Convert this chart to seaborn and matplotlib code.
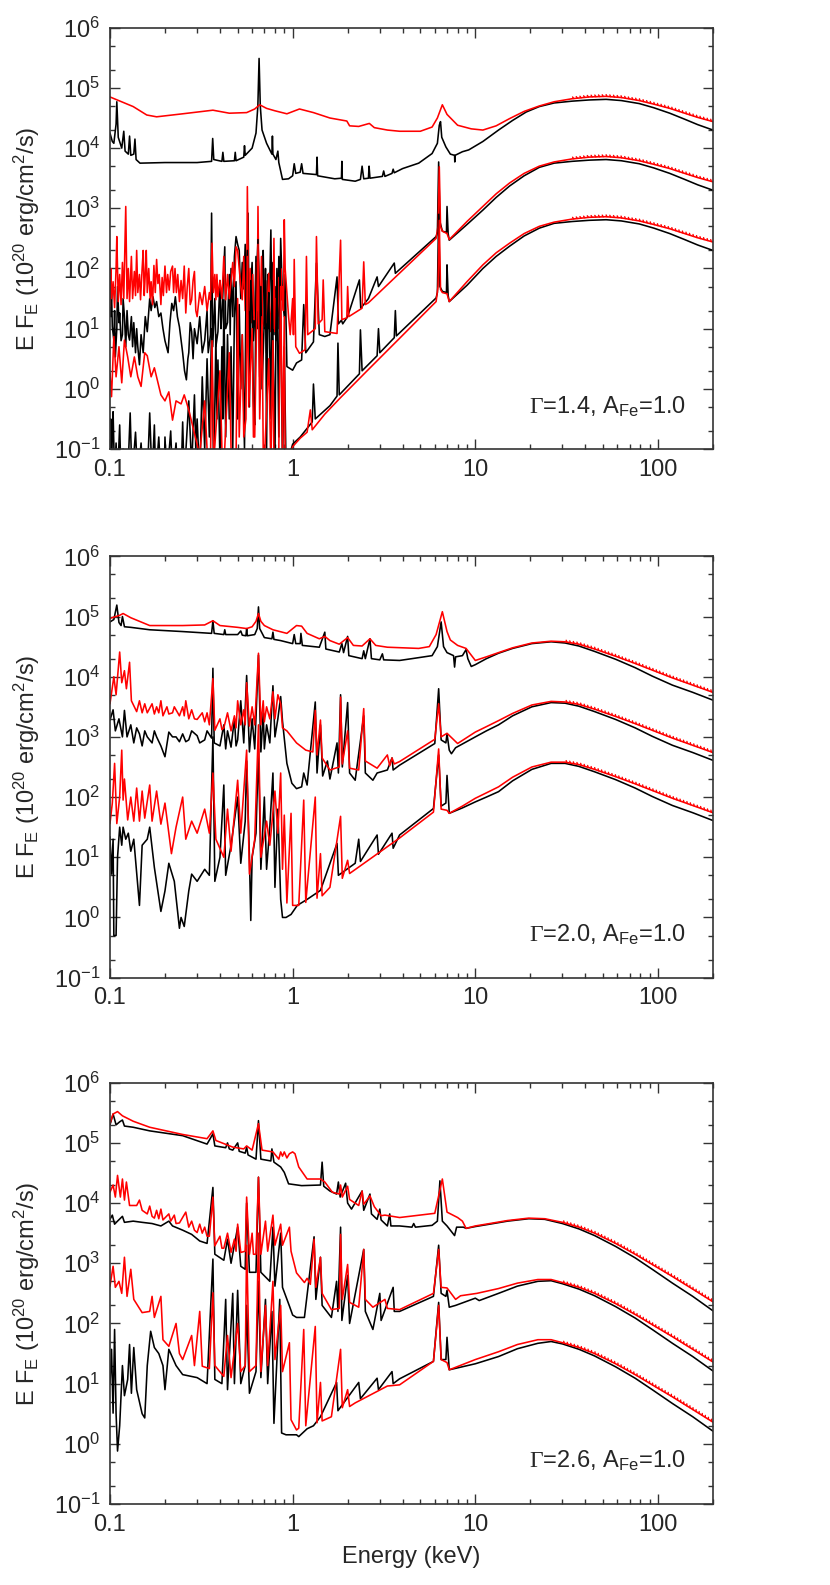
import numpy as np
import matplotlib
matplotlib.use("Agg")
import matplotlib.pyplot as plt
import matplotlib.patheffects as pe
from matplotlib.ticker import LogLocator, NullFormatter, FixedLocator
import seaborn as sns

# Each curve: (energy in keV, log10 of E F_E).
# Panel 1 : Gamma=1.4
p1_a_red = [(0.1,4.85),(0.134,4.69),(0.159,4.55),(0.18,4.52),(0.25,4.57),(0.366,4.63),(0.45,4.58),(0.56,4.59),(0.62,4.65),(0.66,4.72),(0.72,4.66),(0.8,4.62),(0.93,4.57),(1.09,4.65),(1.3,4.59),(1.6,4.50),(1.98,4.45),(2.05,4.37),(2.3,4.36),(2.63,4.41),(2.8,4.34),(3.3,4.30),(3.85,4.28),(5.0,4.28),(5.8,4.35),(6.2,4.50),(6.6,4.72),(7.0,4.56),(8.0,4.38),(9.5,4.32),(11,4.30),(13,4.37),(15.4,4.49),(18.5,4.61),(22.4,4.70),(27,4.77),(33.8,4.82),(42,4.85),(52,4.86),(63,4.84),(79,4.79),(95,4.73),(116,4.66),(140,4.58),(165,4.51),(200,4.44)]
p1_a_blk = [(0.1,4.25),(0.103,4.11),(0.105,4.08),(0.108,4.40),(0.109,4.77),(0.111,4.18),(0.116,4.0),(0.119,4.28),(0.121,3.95),(0.126,3.9),(0.128,4.2),(0.13,3.88),(0.135,3.9),(0.137,4.15),(0.139,3.81),(0.146,3.75),(0.2,3.76),(0.3,3.76),(0.36,3.78),(0.365,4.16),(0.37,3.81),(0.41,3.78),(0.415,3.93),(0.42,3.78),(0.48,3.79),(0.485,3.93),(0.49,3.79),(0.54,3.85),(0.545,4.04),(0.55,3.88),(0.6,4.0),(0.63,4.25),(0.645,4.7),(0.655,5.49),(0.665,4.7),(0.68,4.3),(0.72,4.08),(0.77,3.9),(0.775,4.2),(0.78,3.9),(0.81,3.81),(0.83,3.95),(0.84,3.76),(0.88,3.48),(0.95,3.49),(1.0,3.54),(1.02,3.74),(1.04,3.58),(1.1,3.6),(1.12,3.74),(1.14,3.58),(1.35,3.56),(1.36,3.85),(1.37,3.54),(1.7,3.49),(1.85,3.5),(1.86,3.78),(1.87,3.48),(2.2,3.45),(2.35,3.48),(2.4,3.7),(2.45,3.49),(2.6,3.5),(2.62,3.7),(2.65,3.5),(3.1,3.53),(3.15,3.62),(3.2,3.53),(3.5,3.58),(3.55,3.65),(3.6,3.59),(4.0,3.66),(4.9,3.75),(5.8,3.91),(6.2,4.08),(6.35,4.38),(6.45,4.44),(6.55,4.18),(6.9,4.02),(7.3,3.9),(7.7,3.88),(7.72,3.77),(7.75,3.88),(8.5,3.94),(9.2,3.97),(11,4.11),(13.4,4.30),(16,4.46),(19,4.60),(22.4,4.69),(27,4.75),(33.8,4.78),(42,4.80),(52,4.81),(63,4.79),(79,4.74),(95,4.67),(116,4.58),(140,4.48),(165,4.39),(200,4.30)]
p1_b_red = [(0.1,1.37),(0.101,2.0),(0.102,1.5),(0.104,1.78),(0.106,1.35),(0.108,2.0),(0.109,2.53),(0.111,1.45),(0.113,1.9),(0.115,1.4),(0.117,2.1),(0.119,1.5),(0.121,2.5),(0.122,3.03),(0.124,1.5),(0.126,2.0),(0.128,1.45),(0.131,2.2),(0.133,1.5),(0.136,1.95),(0.138,1.55),(0.14,2.3),(0.142,1.6),(0.145,1.9),(0.147,1.48),(0.15,2.0),(0.152,2.3),(0.154,1.55),(0.156,1.9),(0.158,2.3),(0.16,1.6),(0.163,2.0),(0.166,1.5),(0.168,1.78),(0.171,1.4),(0.174,2.05),(0.177,1.6),(0.18,2.15),(0.183,1.75),(0.186,1.9),(0.19,1.4),(0.193,1.85),(0.196,1.55),(0.2,2.04),(0.204,1.6),(0.207,1.9),(0.211,1.64),(0.215,1.95),(0.22,2.04),(0.223,1.6),(0.227,2.0),(0.231,1.6),(0.235,1.9),(0.24,1.45),(0.245,1.8),(0.25,1.5),(0.255,2.04),(0.26,1.26),(0.265,1.7),(0.27,2.0),(0.275,1.4),(0.28,1.48),(0.285,1.8),(0.29,1.95),(0.295,1.3),(0.3,1.2),(0.31,1.6),(0.32,1.4),(0.33,1.7),(0.34,1.3),(0.35,1.6),(0.355,1.48),(0.362,2.42),(0.368,1.6),(0.375,1.9),(0.38,1.48),(0.385,1.9),(0.39,1.53),(0.4,1.8),(0.41,1.5),(0.42,2.2),(0.43,1.48),(0.44,1.9),(0.45,1.5),(0.46,1.78),(0.47,2.1),(0.48,1.7),(0.49,2.36),(0.5,2.3),(0.51,2.0),(0.52,1.7),(0.53,1.48),(0.54,2.2),(0.55,1.3),(0.56,1.5),(0.565,3.36),(0.575,1.3),(0.585,2.0),(0.595,1.1),(0.605,1.9),(0.615,1.15),(0.625,1.18),(0.635,2.1),(0.64,1.3),(0.646,3.03),(0.655,1.3),(0.665,1.15),(0.675,2.2),(0.685,1.1),(0.7,1.04),(0.71,1.8),(0.72,1.1),(0.74,1.92),(0.75,1.2),(0.76,0.95),(0.77,1.6),(0.78,1.0),(0.79,2.5),(0.8,0.95),(0.81,1.5),(0.82,1.0),(0.84,1.85),(0.85,1.2),(0.86,2.0),(0.87,1.48),(0.88,1.7),(0.89,1.3),(0.9,2.81),(0.91,2.0),(0.93,1.6),(0.95,1.2),(0.97,0.9),(1.0,1.5),(1.01,0.9),(1.02,2.15),(1.04,0.7),(1.09,0.59),(1.17,0.65),(1.19,2.2),(1.21,0.9),(1.33,1.0),(1.35,2.53),(1.38,1.08),(1.45,1.15),(1.47,1.81),(1.5,0.95),(1.75,0.92),(1.83,2.47),(1.86,1.15),(1.98,1.18),(2.0,1.70),(2.03,1.2),(2.4,1.34),(2.45,2.11),(2.5,1.4),(2.6,1.43),(4.0,1.97),(5.0,2.25),(6.1,2.5),(6.25,2.7),(6.35,3.69),(6.45,2.7),(6.6,2.62),(7.0,2.58),(7.2,2.48),(9,2.78),(11,3.03),(13,3.24),(15.4,3.42),(18.5,3.58),(22.4,3.70),(27,3.77),(33.8,3.82),(42,3.85),(52,3.86),(63,3.84),(79,3.79),(95,3.73),(116,3.66),(140,3.58),(165,3.51),(200,3.44)]
p1_b_blk = [(0.1,1.70),(0.101,1.2),(0.102,1.6),(0.103,1.03),(0.105,0.81),(0.106,1.3),(0.107,0.53),(0.109,1.0),(0.11,1.7),(0.112,1.1),(0.113,1.26),(0.115,0.8),(0.117,0.9),(0.118,1.5),(0.12,1.2),(0.122,0.7),(0.124,1.3),(0.126,0.9),(0.128,0.81),(0.131,1.2),(0.133,0.7),(0.135,1.1),(0.138,0.6),(0.14,1.0),(0.142,0.7),(0.145,0.4),(0.148,0.9),(0.152,0.6),(0.156,1.2),(0.16,0.95),(0.165,1.5),(0.168,1.3),(0.172,1.53),(0.176,1.35),(0.18,1.45),(0.185,1.2),(0.19,1.26),(0.195,1.0),(0.2,0.8),(0.208,0.6),(0.213,1.1),(0.218,1.42),(0.223,1.3),(0.228,1.53),(0.234,1.2),(0.24,1.03),(0.25,0.6),(0.256,0.3),(0.262,0.15),(0.267,0.5),(0.27,0.6),(0.275,1.1),(0.28,0.95),(0.285,0.5),(0.29,1.0),(0.3,0.75),(0.31,1.2),(0.32,0.6),(0.33,0.8),(0.34,1.3),(0.345,0.6),(0.355,0.9),(0.36,2.92),(0.365,0.7),(0.375,1.5),(0.38,0.7),(0.39,0.95),(0.4,1.8),(0.405,1.0),(0.41,1.2),(0.425,2.36),(0.43,1.0),(0.44,1.1),(0.45,1.9),(0.455,0.9),(0.46,2.0),(0.47,1.2),(0.48,2.2),(0.49,2.53),(0.5,2.4),(0.51,2.3),(0.52,1.5),(0.53,2.1),(0.54,1.66),(0.55,2.4),(0.56,1.0),(0.57,2.92),(0.58,0.6),(0.59,1.7),(0.6,2.1),(0.61,0.8),(0.62,1.2),(0.63,2.2),(0.64,1.0),(0.646,2.47),(0.66,1.5),(0.67,0.8),(0.68,2.0),(0.69,2.3),(0.7,1.0),(0.71,1.8),(0.72,0.6),(0.73,1.9),(0.74,1.0),(0.76,2.64),(0.77,1.2),(0.78,2.1),(0.79,0.9),(0.8,1.7),(0.81,0.8),(0.82,2.0),(0.83,1.0),(0.84,2.2),(0.85,1.2),(0.86,2.5),(0.88,1.5),(0.9,1.2),(0.91,1.9),(0.93,0.37),(1.0,0.31),(1.05,0.43),(1.12,0.48),(1.15,1.4),(1.18,0.6),(1.3,0.78),(1.35,2.09),(1.4,0.9),(1.5,0.87),(1.6,0.9),(1.75,1.86),(1.78,1.08),(1.85,1.14),(1.88,1.08),(2.0,1.2),(2.32,1.81),(2.36,1.34),(2.6,1.5),(2.9,1.86),(2.95,1.7),(3.6,2.09),(3.65,1.92),(6.1,2.53),(6.2,2.6),(6.3,3.77),(6.4,2.78),(6.6,2.62),(6.95,2.6),(7.0,3.03),(7.1,2.58),(7.2,2.47),(9,2.73),(11,2.97),(13,3.18),(15.4,3.37),(18.5,3.54),(22.4,3.68),(27,3.75),(33.8,3.78),(42,3.80),(52,3.81),(63,3.79),(79,3.74),(95,3.67),(116,3.58),(140,3.48),(165,3.39),(200,3.30)]
p1_c_red = [(0.1,0.26),(0.102,-0.13),(0.105,0.87),(0.108,0.2),(0.112,0.7),(0.116,0.1),(0.12,0.81),(0.125,0.53),(0.13,0.2),(0.136,0.53),(0.142,0.2),(0.148,0.04),(0.155,0.6),(0.16,0.55),(0.168,0.2),(0.175,0.35),(0.19,-0.1),(0.2,-0.2),(0.21,-0.05),(0.22,-0.52),(0.23,-0.2),(0.245,-0.25),(0.255,-0.1),(0.27,-0.35),(0.29,-0.74),(0.31,-1.1),(0.33,-0.2),(0.34,-1.0),(0.355,-1.2),(0.362,0.8),(0.37,-1.2),(0.4,0.3),(0.41,-1.0),(0.42,-1.3),(0.45,0.6),(0.46,-1.0),(0.49,-1.2),(0.5,1.5),(0.51,-0.8),(0.53,0.9),(0.54,-0.8),(0.555,-0.5),(0.565,2.2),(0.575,-0.3),(0.6,1.0),(0.61,-0.8),(0.62,-0.8),(0.646,2.4),(0.66,-0.5),(0.68,1.2),(0.69,-1.0),(0.7,-1.2),(0.74,0.5),(0.76,-1.3),(0.78,0.8),(0.79,-1.2),(0.84,-1.0),(0.86,1.7),(0.88,-1.1),(0.9,1.2),(0.91,-1.2),(0.93,-1.3),(1.0,-0.96),(1.1,-0.82),(1.2,-0.72),(1.25,-0.35),(1.28,-0.68),(1.5,-0.42),(1.81,-0.16),(2.5,0.27),(4.0,0.89),(6.1,1.45),(6.25,1.7),(6.35,2.8),(6.45,1.65),(6.6,1.6),(7.0,1.58),(7.2,1.45),(9,1.78),(11,2.06),(13,2.26),(15.4,2.42),(18.5,2.58),(22.4,2.70),(27,2.77),(33.8,2.82),(42,2.85),(52,2.86),(63,2.84),(79,2.79),(95,2.73),(116,2.66),(140,2.58),(165,2.51),(200,2.44)]
p1_c_blk = [(0.1,-1.5),(0.101,-0.5),(0.102,-1.5),(0.103,-0.7),(0.104,-0.38),(0.106,-1.5),(0.108,-0.9),(0.11,-1.5),(0.113,-0.6),(0.115,-1.5),(0.118,-1.0),(0.12,-1.5),(0.125,-1.5),(0.129,-0.4),(0.132,-1.5),(0.138,-0.72),(0.142,-1.5),(0.148,-0.9),(0.152,-1.5),(0.16,-1.5),(0.165,-0.4),(0.17,-1.5),(0.175,-0.6),(0.178,-1.5),(0.185,-0.8),(0.19,-1.5),(0.198,-1.5),(0.2,-0.8),(0.205,-1.5),(0.215,-0.7),(0.22,-1.5),(0.23,-0.9),(0.235,-1.5),(0.245,-1.5),(0.25,-0.55),(0.255,-1.5),(0.27,-0.2),(0.28,-1.3),(0.29,-0.1),(0.295,-1.0),(0.3,-0.5),(0.31,-1.5),(0.32,0.2),(0.33,-1.0),(0.34,0.5),(0.35,-0.8),(0.36,1.0),(0.37,-1.5),(0.38,0.9),(0.385,-0.5),(0.39,0.48),(0.4,-1.2),(0.41,0.7),(0.415,-0.5),(0.42,1.48),(0.43,-0.8),(0.44,0.9),(0.45,-0.5),(0.46,0.7),(0.47,-1.0),(0.48,1.2),(0.49,1.78),(0.5,-0.5),(0.51,1.4),(0.52,0.0),(0.53,0.9),(0.545,-1.0),(0.555,1.5),(0.565,2.3),(0.58,-0.3),(0.59,1.8),(0.6,1.3),(0.61,-0.2),(0.62,-0.6),(0.63,1.6),(0.646,2.48),(0.66,0.2),(0.67,1.7),(0.68,0.0),(0.7,1.18),(0.71,2.0),(0.72,-1.0),(0.73,1.2),(0.74,1.6),(0.76,-0.5),(0.77,1.8),(0.78,0.9),(0.8,-1.2),(0.81,1.0),(0.82,1.78),(0.84,-0.8),(0.85,2.1),(0.86,1.3),(0.88,-1.3),(0.9,0.7),(0.92,-1.3),(1.0,-0.92),(1.1,-0.8),(1.28,-0.55),(1.3,0.08),(1.33,-0.5),(1.6,-0.28),(1.75,-0.12),(1.77,0.76),(1.8,-0.1),(2.32,0.25),(2.35,0.98),(2.4,0.3),(2.9,0.55),(2.95,1.0),(3.0,0.6),(3.6,0.85),(3.65,1.3),(3.7,0.88),(6.1,1.51),(6.2,1.6),(6.3,2.9),(6.4,1.7),(6.6,1.62),(6.95,1.6),(7.0,2.06),(7.1,1.55),(7.2,1.45),(9,1.72),(11,2.0),(13,2.2),(15.4,2.37),(18.5,2.54),(22.4,2.67),(27,2.75),(33.8,2.78),(42,2.80),(52,2.81),(63,2.79),(79,2.74),(95,2.67),(116,2.58),(140,2.48),(165,2.39),(200,2.30)]

# Panel 2 : Gamma=2.0
p2_a_red = [(0.1,4.97),(0.113,5.02),(0.118,5.05),(0.13,4.98),(0.165,4.85),(0.25,4.85),(0.33,4.86),(0.366,4.93),(0.4,4.85),(0.5,4.82),(0.56,4.80),(0.6,4.83),(0.63,4.92),(0.65,5.05),(0.67,4.92),(0.7,4.85),(0.78,4.78),(0.93,4.72),(1.05,4.85),(1.12,4.84),(1.2,4.72),(1.4,4.63),(1.5,4.67),(1.6,4.60),(1.8,4.54),(2.0,4.65),(2.15,4.52),(2.4,4.51),(2.65,4.63),(2.85,4.52),(3.3,4.49),(4.9,4.47),(5.6,4.50),(6.1,4.70),(6.6,5.08),(7.0,4.75),(7.3,4.61),(8.0,4.52),(8.9,4.47),(10,4.27),(11.5,4.33),(13.4,4.40),(16,4.48),(20.4,4.56),(26,4.59),(31,4.58),(36.9,4.54),(45,4.46),(58.6,4.34),(75,4.22),(93,4.11),(120,3.98),(155,3.86),(200,3.74)]
p2_a_blk = [(0.1,4.91),(0.105,4.95),(0.109,5.19),(0.112,4.9),(0.115,4.85),(0.117,5.0),(0.12,4.83),(0.13,4.82),(0.165,4.78),(0.25,4.75),(0.36,4.72),(0.366,4.93),(0.372,4.72),(0.42,4.7),(0.425,4.78),(0.43,4.7),(0.5,4.7),(0.52,4.76),(0.53,4.69),(0.555,4.68),(0.56,4.8),(0.565,4.68),(0.62,4.7),(0.64,4.8),(0.65,5.16),(0.66,4.8),(0.7,4.65),(0.77,4.63),(0.78,4.74),(0.79,4.62),(0.86,4.6),(1.0,4.55),(1.02,4.7),(1.04,4.55),(1.1,4.55),(1.11,4.72),(1.13,4.52),(1.4,4.49),(1.5,4.74),(1.52,4.46),(1.8,4.41),(1.86,4.55),(1.9,4.40),(2.0,4.67),(2.03,4.35),(2.4,4.30),(2.45,4.43),(2.5,4.30),(2.65,4.63),(2.7,4.30),(3.0,4.28),(3.1,4.38),(3.15,4.28),(3.85,4.27),(4.5,4.3),(5.8,4.35),(6.2,4.5),(6.5,4.91),(6.7,4.5),(7.0,4.40),(7.6,4.35),(7.7,4.16),(7.8,4.33),(8.5,4.35),(8.9,4.45),(9.1,4.3),(9.5,4.17),(10,4.2),(11.5,4.3),(13.4,4.39),(16,4.47),(20.4,4.55),(26,4.58),(31,4.56),(36.9,4.51),(45,4.42),(58.6,4.29),(75,4.15),(93,4.01),(120,3.86),(155,3.74),(200,3.61)]
p2_b_red = [(0.1,3.55),(0.105,4.0),(0.108,3.7),(0.113,4.41),(0.116,3.9),(0.12,4.1),(0.123,3.8),(0.128,4.24),(0.131,3.6),(0.14,3.42),(0.145,3.6),(0.15,3.4),(0.155,3.55),(0.16,3.4),(0.17,3.55),(0.175,3.38),(0.18,3.5),(0.185,3.4),(0.19,3.6),(0.195,3.35),(0.205,3.5),(0.21,3.38),(0.22,3.4),(0.225,3.5),(0.24,3.35),(0.25,3.5),(0.255,3.35),(0.26,3.6),(0.27,3.3),(0.28,3.45),(0.29,3.3),(0.3,3.29),(0.32,3.4),(0.33,3.25),(0.34,3.4),(0.35,3.2),(0.366,3.97),(0.375,3.11),(0.4,3.3),(0.41,3.12),(0.42,3.15),(0.44,3.4),(0.46,3.1),(0.48,3.35),(0.49,3.15),(0.5,3.6),(0.52,3.2),(0.54,3.45),(0.55,3.2),(0.56,3.9),(0.58,3.18),(0.6,3.5),(0.62,3.2),(0.65,4.39),(0.67,3.2),(0.69,3.6),(0.7,3.25),(0.72,3.5),(0.75,3.3),(0.78,3.75),(0.8,3.3),(0.83,3.7),(0.86,3.55),(0.88,3.15),(0.93,3.1),(1.05,2.9),(1.18,2.78),(1.29,2.75),(1.33,3.44),(1.36,2.7),(1.42,3.28),(1.45,2.65),(1.6,2.45),(1.8,2.5),(1.83,3.66),(1.87,2.55),(2.0,3.1),(2.05,2.48),(2.3,2.45),(2.45,3.47),(2.5,2.6),(2.9,2.48),(3.3,2.7),(3.4,2.52),(3.5,2.65),(3.6,2.55),(3.85,2.59),(6.0,2.96),(6.3,3.55),(6.5,3.0),(7.0,3.06),(8.0,2.89),(10,3.08),(11.5,3.17),(13.4,3.27),(16,3.39),(20.4,3.53),(26,3.59),(31,3.58),(36.9,3.54),(45,3.46),(58.6,3.34),(75,3.22),(93,3.11),(120,2.98),(155,2.86),(200,2.74)]
p2_b_blk = [(0.1,3.28),(0.104,3.45),(0.107,3.1),(0.112,3.3),(0.117,3.0),(0.12,3.44),(0.124,3.0),(0.13,3.2),(0.135,2.9),(0.14,3.15),(0.145,3.05),(0.15,2.85),(0.155,3.1),(0.16,3.0),(0.17,2.9),(0.175,3.1),(0.18,3.0),(0.19,2.85),(0.2,2.67),(0.21,3.08),(0.22,3.0),(0.23,3.0),(0.24,2.92),(0.25,3.05),(0.26,2.92),(0.27,2.95),(0.28,3.1),(0.3,3.02),(0.31,2.9),(0.33,2.95),(0.34,3.1),(0.36,2.98),(0.366,4.14),(0.372,2.9),(0.4,2.85),(0.42,3.2),(0.43,2.8),(0.44,3.1),(0.46,2.83),(0.48,3.3),(0.49,2.85),(0.5,2.95),(0.52,3.6),(0.54,2.9),(0.56,4.02),(0.58,2.75),(0.6,3.3),(0.62,2.8),(0.65,4.36),(0.67,2.75),(0.69,3.4),(0.7,2.8),(0.72,3.2),(0.75,2.9),(0.78,3.85),(0.8,3.0),(0.83,3.3),(0.86,3.67),(0.88,3.26),(0.93,2.56),(0.99,2.23),(1.05,2.14),(1.12,2.17),(1.15,2.4),(1.2,2.2),(1.33,3.58),(1.36,2.4),(1.42,3.2),(1.46,2.35),(1.55,2.6),(1.6,2.3),(1.75,2.9),(1.78,2.4),(1.83,3.70),(1.87,2.5),(2.0,3.57),(2.05,2.4),(2.2,2.28),(2.45,3.35),(2.5,2.4),(2.75,2.28),(2.9,2.4),(3.3,2.45),(3.5,2.65),(3.55,2.45),(3.85,2.53),(6.0,2.89),(6.3,3.80),(6.5,2.95),(6.9,2.9),(7.0,3.05),(7.2,2.78),(7.4,2.72),(7.8,2.82),(10,3.0),(11.5,3.1),(13.4,3.2),(16,3.35),(20.4,3.5),(26,3.57),(31,3.56),(36.9,3.51),(45,3.42),(58.6,3.29),(75,3.15),(93,3.01),(120,2.86),(155,2.74),(200,2.61)]
p2_c_red = [(0.1,1.56),(0.103,1.9),(0.106,2.56),(0.109,1.56),(0.113,2.0),(0.116,2.78),(0.118,1.95),(0.12,2.3),(0.125,1.62),(0.13,2.0),(0.135,1.6),(0.14,2.15),(0.145,1.6),(0.15,2.1),(0.155,1.65),(0.165,2.2),(0.17,1.6),(0.18,2.1),(0.19,1.55),(0.2,1.9),(0.217,1.06),(0.23,1.5),(0.25,2.0),(0.26,1.3),(0.28,1.6),(0.3,1.4),(0.33,1.8),(0.35,1.4),(0.366,2.4),(0.38,1.3),(0.42,1.0),(0.44,1.8),(0.46,1.1),(0.5,2.28),(0.52,1.4),(0.56,2.78),(0.58,0.72),(0.62,1.3),(0.65,3.2),(0.67,1.0),(0.72,1.6),(0.75,1.2),(0.8,2.1),(0.83,1.4),(0.86,2.4),(0.88,0.8),(0.9,1.7),(0.93,0.24),(0.98,1.73),(1.0,0.2),(1.08,0.2),(1.15,1.95),(1.18,0.25),(1.33,2.0),(1.36,0.32),(1.42,1.06),(1.45,0.36),(1.6,0.5),(1.83,1.68),(1.87,0.65),(2.0,0.95),(2.05,0.73),(3.85,1.32),(5.9,1.75),(6.3,2.8),(6.5,1.8),(7.0,1.78),(7.2,1.73),(8.5,1.85),(10,1.98),(11.5,2.07),(13.4,2.17),(16,2.33),(20.4,2.50),(26,2.58),(31,2.58),(36.9,2.54),(45,2.46),(58.6,2.34),(75,2.22),(93,2.11),(120,1.98),(155,1.86),(200,1.74)]
p2_c_blk = [(0.1,1.34),(0.102,0.72),(0.104,1.3),(0.105,-0.3),(0.108,-0.3),(0.11,1.0),(0.113,1.5),(0.116,1.2),(0.118,1.5),(0.122,1.3),(0.126,1.4),(0.13,1.1),(0.135,1.3),(0.145,0.2),(0.15,1.2),(0.16,1.3),(0.165,1.5),(0.175,0.83),(0.19,0.1),(0.2,0.44),(0.21,0.9),(0.225,0.6),(0.24,-0.18),(0.245,0.0),(0.255,-0.15),(0.27,0.44),(0.28,0.72),(0.3,0.6),(0.33,0.8),(0.35,0.7),(0.366,3.0),(0.375,0.6),(0.4,1.0),(0.42,2.2),(0.43,0.7),(0.46,1.2),(0.5,2.0),(0.52,0.9),(0.55,1.6),(0.56,2.6),(0.58,1.0),(0.59,-0.05),(0.6,1.0),(0.63,1.4),(0.65,2.8),(0.67,0.8),(0.7,2.0),(0.72,0.8),(0.75,1.5),(0.78,2.4),(0.8,0.5),(0.83,1.8),(0.86,0.3),(0.88,0.0),(0.92,0.0),(0.98,0.05),(1.06,0.2),(1.2,0.3),(1.42,0.45),(1.75,1.23),(1.78,0.7),(2.2,0.9),(2.3,1.3),(2.35,0.93),(2.9,1.37),(2.95,1.05),(3.5,1.4),(3.55,1.15),(3.85,1.37),(5.9,1.81),(6.3,2.7),(6.5,1.85),(6.9,1.9),(7.0,2.36),(7.2,1.73),(8.5,1.82),(10,1.92),(11.5,2.0),(13.4,2.09),(16,2.27),(20.4,2.46),(26,2.56),(31,2.56),(36.9,2.51),(45,2.42),(58.6,2.29),(75,2.15),(93,2.01),(120,1.86),(155,1.74),(200,1.61)]

# Panel 3 : Gamma=2.6
p3_a_red = [(0.1,5.32),(0.104,5.48),(0.11,5.52),(0.117,5.45),(0.134,5.36),(0.165,5.26),(0.25,5.14),(0.34,5.07),(0.366,5.2),(0.38,5.04),(0.47,4.93),(0.54,4.9),(0.56,4.95),(0.6,4.88),(0.65,5.32),(0.68,4.88),(0.78,4.85),(0.84,4.73),(0.86,4.85),(0.88,4.78),(0.9,4.85),(0.93,4.75),(0.96,4.82),(1.0,4.85),(1.03,4.82),(1.08,4.6),(1.2,4.4),(1.42,4.4),(1.5,4.35),(1.65,4.18),(1.8,4.15),(1.83,4.3),(1.87,4.1),(2.0,4.28),(2.05,4.06),(2.3,3.96),(2.4,4.2),(2.45,3.98),(2.65,4.12),(2.8,3.94),(3.05,3.79),(3.2,3.8),(3.85,3.76),(6.0,3.83),(6.6,4.4),(7.0,3.85),(8.0,3.76),(8.5,3.7),(8.9,3.58),(10,3.62),(12,3.66),(15,3.71),(19.6,3.75),(24,3.74),(30,3.68),(37,3.60),(45,3.50),(58.6,3.33),(75,3.15),(93,2.98),(120,2.78),(155,2.57),(200,2.36)]
p3_a_blk = [(0.1,5.3),(0.104,5.48),(0.108,5.3),(0.113,5.35),(0.117,5.38),(0.12,5.28),(0.134,5.26),(0.165,5.2),(0.25,5.12),(0.34,4.98),(0.366,5.15),(0.375,4.95),(0.43,4.92),(0.44,5.0),(0.45,4.9),(0.47,4.88),(0.5,5.0),(0.51,4.86),(0.55,4.83),(0.56,4.93),(0.57,4.8),(0.63,4.73),(0.65,5.37),(0.67,4.73),(0.76,4.7),(0.77,4.9),(0.79,4.68),(0.86,4.6),(0.9,4.51),(0.95,4.32),(1.12,4.29),(1.42,4.3),(1.45,4.68),(1.48,4.28),(1.6,4.2),(1.74,4.15),(1.78,4.35),(1.82,4.1),(1.95,4.33),(2.0,4.0),(2.1,3.9),(2.4,4.2),(2.45,3.88),(2.65,4.15),(2.7,3.82),(2.9,3.73),(3.0,3.9),(3.05,3.72),(3.3,3.62),(3.4,3.82),(3.45,3.62),(3.85,3.62),(4.5,3.6),(4.6,3.66),(4.7,3.6),(5.8,3.63),(6.2,3.7),(6.4,4.37),(6.6,3.7),(7.0,3.62),(7.7,3.46),(7.9,3.6),(8.6,3.6),(8.9,3.58),(10,3.61),(12,3.65),(15,3.70),(19.6,3.74),(24,3.73),(30,3.66),(37,3.57),(45,3.46),(58.6,3.28),(75,3.09),(93,2.90),(120,2.67),(155,2.45),(200,2.21)]
p3_b_red = [(0.1,4.18),(0.104,4.3),(0.107,4.1),(0.11,4.46),(0.114,4.1),(0.117,4.4),(0.12,4.05),(0.123,4.35),(0.128,3.96),(0.14,3.96),(0.145,4.05),(0.15,3.88),(0.16,3.82),(0.165,3.95),(0.17,3.78),(0.175,3.75),(0.18,3.88),(0.185,3.74),(0.19,3.9),(0.195,3.72),(0.21,3.82),(0.215,3.7),(0.225,3.8),(0.23,3.66),(0.24,3.67),(0.26,3.85),(0.27,3.6),(0.28,3.7),(0.29,3.55),(0.3,3.51),(0.31,3.65),(0.32,3.5),(0.33,3.6),(0.34,3.45),(0.35,3.45),(0.366,4.1),(0.375,3.29),(0.4,3.45),(0.41,3.25),(0.42,3.25),(0.44,3.5),(0.46,3.18),(0.48,3.4),(0.49,3.2),(0.5,3.65),(0.52,3.18),(0.55,3.2),(0.56,4.1),(0.58,3.15),(0.6,3.5),(0.61,3.15),(0.63,3.15),(0.65,4.43),(0.67,3.15),(0.71,3.7),(0.73,3.2),(0.78,3.8),(0.8,3.3),(0.86,3.65),(0.88,3.3),(0.96,3.6),(0.98,3.2),(1.05,2.84),(1.16,2.68),(1.2,2.75),(1.25,2.65),(1.31,3.4),(1.34,2.6),(1.42,3.1),(1.45,2.5),(1.63,2.23),(1.8,2.25),(1.83,3.48),(1.87,2.4),(2.0,2.98),(2.05,2.35),(2.3,2.27),(2.45,3.23),(2.5,2.4),(2.75,2.27),(3.2,2.4),(3.3,2.25),(3.85,2.23),(5.9,2.5),(6.3,3.23),(6.5,2.6),(7.0,2.59),(7.8,2.4),(8.3,2.46),(10.2,2.50),(13.4,2.58),(17,2.67),(22,2.73),(26,2.73),(30,2.68),(37,2.60),(45,2.50),(58.6,2.33),(75,2.15),(93,1.98),(120,1.78),(155,1.57),(200,1.36)]
p3_b_blk = [(0.1,3.73),(0.103,3.8),(0.106,3.65),(0.11,3.7),(0.117,3.78),(0.12,3.68),(0.134,3.7),(0.15,3.68),(0.17,3.66),(0.19,3.62),(0.21,3.7),(0.22,3.62),(0.25,3.55),(0.28,3.48),(0.31,3.37),(0.34,3.33),(0.366,4.26),(0.375,3.15),(0.42,3.05),(0.44,3.4),(0.46,3.0),(0.5,3.6),(0.52,2.95),(0.55,2.9),(0.56,4.0),(0.58,2.85),(0.63,2.85),(0.65,4.43),(0.67,2.85),(0.75,2.7),(0.78,3.6),(0.8,2.62),(0.86,3.5),(0.88,2.6),(0.96,2.29),(1.0,2.14),(1.05,2.1),(1.16,2.1),(1.31,3.44),(1.34,2.4),(1.42,3.1),(1.45,2.3),(1.63,2.1),(1.74,2.7),(1.77,2.2),(1.83,3.6),(1.86,2.05),(2.0,2.8),(2.05,2.0),(2.45,3.23),(2.5,2.2),(2.75,1.9),(3.0,2.5),(3.05,2.05),(3.55,2.6),(3.6,2.2),(3.85,2.2),(5.9,2.45),(6.3,3.3),(6.5,2.5),(6.9,2.45),(7.0,2.55),(7.2,2.27),(7.8,2.3),(10,2.42),(10.5,2.38),(13.4,2.5),(17,2.62),(22,2.70),(26,2.71),(30,2.66),(37,2.57),(45,2.46),(58.6,2.28),(75,2.09),(93,1.90),(120,1.67),(155,1.45),(200,1.21)]
p3_c_red = [(0.1,2.62),(0.104,2.95),(0.107,2.6),(0.112,2.7),(0.116,2.5),(0.12,3.1),(0.124,2.45),(0.13,2.9),(0.135,2.4),(0.15,2.18),(0.165,2.2),(0.17,2.45),(0.175,2.1),(0.19,2.45),(0.195,1.73),(0.21,1.62),(0.23,2.0),(0.24,1.5),(0.25,1.4),(0.28,1.8),(0.29,1.3),(0.31,2.2),(0.32,1.29),(0.35,1.25),(0.366,2.51),(0.375,1.3),(0.42,1.12),(0.44,1.8),(0.46,1.1),(0.5,2.0),(0.52,1.2),(0.55,1.3),(0.56,3.3),(0.58,1.2),(0.63,1.3),(0.65,3.5),(0.67,1.2),(0.71,2.3),(0.73,1.3),(0.78,2.7),(0.8,1.4),(0.86,2.3),(0.88,1.2),(0.96,1.68),(0.98,0.4),(1.05,0.23),(1.08,0.26),(1.15,1.9),(1.18,0.3),(1.33,1.95),(1.36,0.35),(1.42,1.02),(1.45,0.38),(1.63,0.45),(1.83,1.57),(1.87,0.6),(2.0,0.9),(2.05,0.62),(2.2,0.68),(3.3,0.96),(3.85,0.98),(5.9,1.37),(6.3,2.3),(6.5,1.4),(7.0,1.35),(7.2,1.23),(10,1.40),(13.4,1.53),(17,1.65),(22,1.73),(26,1.73),(30,1.68),(37,1.60),(45,1.50),(58.6,1.33),(75,1.15),(93,0.98),(120,0.78),(155,0.57),(200,0.36)]
p3_c_blk = [(0.1,1.0),(0.102,1.57),(0.104,0.51),(0.106,1.9),(0.108,0.5),(0.11,-0.12),(0.113,0.3),(0.117,1.3),(0.12,0.8),(0.125,1.07),(0.128,1.65),(0.131,0.84),(0.135,1.6),(0.14,0.9),(0.15,0.5),(0.155,0.43),(0.16,1.3),(0.167,1.87),(0.175,1.6),(0.185,1.5),(0.195,1.3),(0.2,0.9),(0.21,1.57),(0.23,1.3),(0.25,1.15),(0.3,1.1),(0.34,1.0),(0.366,3.07),(0.375,1.07),(0.41,1.0),(0.43,2.4),(0.44,0.9),(0.47,2.5),(0.48,1.0),(0.5,2.55),(0.52,1.0),(0.55,1.3),(0.56,2.3),(0.58,0.84),(0.63,1.2),(0.65,2.7),(0.67,1.1),(0.71,2.4),(0.73,1.0),(0.77,2.2),(0.79,0.34),(0.85,2.4),(0.87,0.18),(0.92,0.15),(1.05,0.15),(1.08,0.12),(1.2,0.25),(1.3,0.3),(1.42,0.45),(1.74,1.02),(1.77,0.55),(2.3,1.02),(2.35,0.75),(2.9,1.09),(2.95,0.9),(3.5,1.2),(3.55,1.0),(3.85,1.08),(5.9,1.37),(6.3,2.35),(6.5,1.4),(6.9,1.4),(7.0,1.77),(7.2,1.23),(10,1.33),(13.4,1.45),(17,1.58),(22,1.67),(26,1.70),(30,1.66),(37,1.57),(45,1.46),(58.6,1.28),(75,1.09),(93,0.90),(120,0.67),(155,0.45),(200,0.21)]

panel_curves = [
    [(p1_a_blk, p1_a_red), (p1_b_blk, p1_b_red), (p1_c_blk, p1_c_red)],
    [(p2_a_blk, p2_a_red), (p2_b_blk, p2_b_red), (p2_c_blk, p2_c_red)],
    [(p3_a_blk, p3_a_red), (p3_b_blk, p3_b_red), (p3_c_blk, p3_c_red)],
]
panel_gamma = ["1.4", "2.0", "2.6"]
x_tick_values = [0.1, 1, 10, 100]
x_tick_labels = ["0.1", "1", "10", "100"]
ripple_from = 30.0   # red model curves show a fine sawtooth above ~30 keV

sns.set_style("ticks")
plt.rcParams["font.family"] = ["Liberation Sans", "DejaVu Sans"]
plt.rcParams.update({
    "mathtext.fontset": "custom",
    "mathtext.rm": "Liberation Sans",
    "mathtext.it": "Liberation Sans:italic",
    "mathtext.bf": "Liberation Sans:bold",
    "mathtext.sf": "Liberation Serif",
    "font.size": 17,
})
FS = 17

fig = plt.figure(figsize=(8.3, 15.85), dpi=100)
bottoms = [0.7167, 0.3832, 0.0511]

for i, (pairs, gam) in enumerate(zip(panel_curves, panel_gamma)):
    ax = fig.add_axes([0.1325, bottoms[i], 0.7265, 0.2658])
    for blk, red in pairs:
        for curve, col in ((blk, "black"), (red, "#ff0000")):
            e = np.array([p[0] for p in curve])
            f = 10.0 ** np.array([p[1] for p in curve])
            sns.lineplot(x=e, y=f, ax=ax, color=col, lw=1.15, sort=False, estimator=None)
        # fine sawtooth texture of the red curves at high energy
        e = np.array([p[0] for p in red])
        f = 10.0 ** np.array([p[1] for p in red])
        m = e >= ripple_from
        ax.plot(e[m], f[m], color="#ff0000", lw=0,
                path_effects=[pe.TickedStroke(spacing=2.6, angle=120, length=0.55,
                                              linewidth=1.0, foreground="#ff0000")])
    ax.set_xscale("log")
    ax.set_yscale("log")
    ax.set_xlim(0.1, 200)
    ax.set_ylim(0.1, 1e6)
    ax.xaxis.set_major_locator(FixedLocator(x_tick_values))
    ax.set_xticklabels(x_tick_labels)
    ax.xaxis.set_minor_locator(LogLocator(base=10, subs=np.arange(2, 10), numticks=20))
    ax.xaxis.set_minor_formatter(NullFormatter())
    ax.yaxis.set_major_locator(LogLocator(base=10, numticks=20))
    ax.yaxis.set_minor_locator(LogLocator(base=10, subs=(2, 5), numticks=20))
    ax.yaxis.set_minor_formatter(NullFormatter())
    ax.tick_params(which="both", direction="in", top=True, right=True, width=1.0, color="#333333")
    ax.tick_params(which="major", length=7, labelsize=FS, pad=7)
    ax.tick_params(which="minor", length=3.5)
    for sp in ax.spines.values():
        sp.set_linewidth(1.2)
        sp.set_color("#333333")
    ax.set_ylabel(r"E F$_{\rm E}$ (10$^{20}$ erg/cm$^2$/s)", fontsize=FS)
    ax.yaxis.set_label_coords(-0.112, 0.5)
    ax.set_xlabel("")
    ax.text(0.955, 0.102, r"$\mathsf{\Gamma}$=" + gam + r", A$_{\rm Fe}$=1.0",
            transform=ax.transAxes, ha="right", va="center", fontsize=FS)
    if i == 2:
        ax.set_xlabel("Energy (keV)", fontsize=FS)
        ax.xaxis.set_label_coords(0.5, -0.1)

fig.savefig("out.png", dpi=100)
